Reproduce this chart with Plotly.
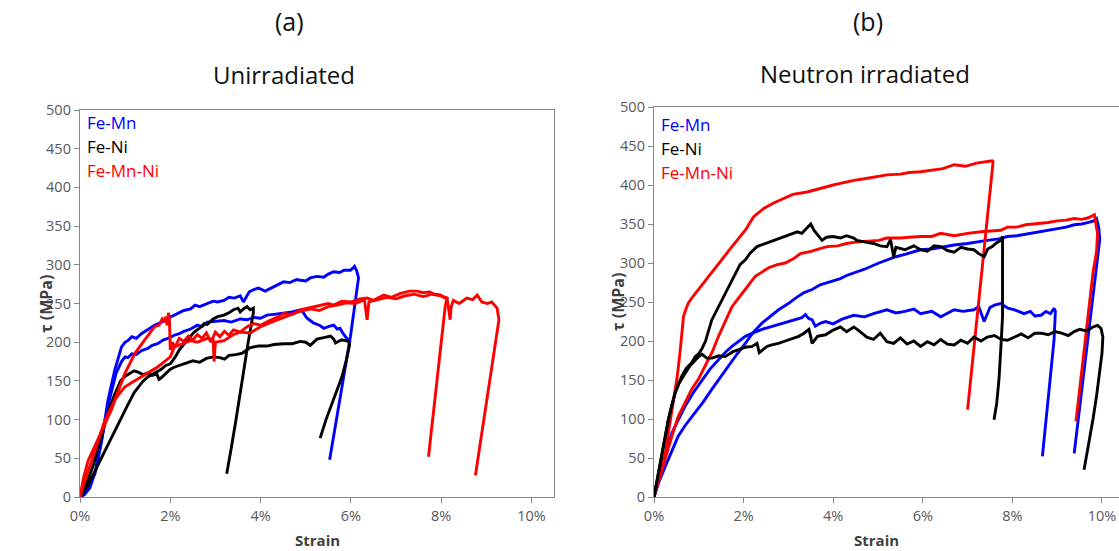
import plotly.graph_objects as go

# ---------------- (a) Unirradiated : strain (%) / shear stress (MPa) ----------------
a_femn_1_x = [0, 0.1, 0.2, 0.33, 0.48, 0.62, 0.77, 0.92, 1.0, 1.06, 1.15, 1.25, 1.36, 1.45, 1.55, 1.65,
              1.72, 1.85, 1.95, 2.09, 2.2, 2.3, 2.45, 2.55, 2.65, 2.82, 2.95, 3.05, 3.19, 3.3, 3.42, 3.55,
              3.62, 3.68, 3.75, 3.85, 3.95, 4.1, 4.25, 4.4, 4.51, 4.65, 4.8, 4.88, 5.0, 5.1, 5.25, 5.4,
              5.5, 5.62, 5.75, 5.85, 5.99, 6.05, 6.08, 6.13, 6.17, 6.08, 5.99, 5.84, 5.69, 5.53]
a_femn_1_y = [0, 4, 15, 30, 73, 125, 164, 194, 200, 202, 207, 205, 211, 214, 218, 222,
              224, 227, 231, 235, 238, 241, 243, 248, 246, 250, 253, 252, 254, 258, 257, 260,
              252, 258, 265, 268, 270, 266, 270, 275, 278, 277, 281, 280, 279, 283, 285, 284,
              288, 291, 290, 293, 293, 296, 298, 292, 283, 245, 207, 155, 103, 48]

a_femn_2_x = [0, 0.1, 0.22, 0.35, 0.5, 0.65, 0.8, 0.92, 1.0, 1.06, 1.15, 1.25, 1.36, 1.5, 1.6, 1.72,
              1.85, 1.95, 2.09, 2.2, 2.3, 2.45, 2.6, 2.7, 2.82, 3.0, 3.19, 3.35, 3.55, 3.7, 3.85, 4.0,
              4.14, 4.3, 4.51, 4.7, 4.9, 5.03, 5.1, 5.17, 5.3, 5.4, 5.5, 5.62, 5.7, 5.76, 5.82, 5.88,
              5.95, 5.99]
a_femn_2_y = [0, 3, 12, 35, 80, 125, 160, 175, 181, 180, 185, 184, 189, 192, 196, 198,
              203, 205, 209, 211, 214, 217, 222, 220, 226, 227, 228, 226, 230, 229, 232, 231,
              235, 236, 238, 239, 242, 231, 228, 225, 222, 218, 220, 222, 217, 218, 212, 207,
              203, 200]

a_feni_1_x = [0, 0.15, 0.3, 0.45, 0.6, 0.75, 0.9, 1.05, 1.2, 1.3, 1.4, 1.5, 1.6, 1.7, 1.8, 1.9,
              2.0, 2.1, 2.2, 2.31, 2.42, 2.53, 2.65, 2.75, 2.82, 2.95, 3.05, 3.19, 3.3, 3.4, 3.5, 3.55,
              3.62, 3.7, 3.77, 3.84, 3.84, 3.78, 3.72, 3.64, 3.55, 3.45, 3.35, 3.25]
a_feni_1_y = [0, 12, 30, 48, 65, 82, 100, 118, 135, 143, 150, 155, 158, 162, 165, 170,
              172, 180, 190, 198, 206, 213, 218, 224, 223, 230, 233, 235, 238, 242, 244, 239,
              243, 246, 242, 244, 238, 220, 198, 168, 133, 98, 63, 30]

a_feni_2_x = [0, 0.15, 0.3, 0.45, 0.6, 0.75, 0.9, 1.0, 1.1, 1.2, 1.3, 1.4, 1.5, 1.6, 1.7, 1.75,
              1.8, 1.9, 2.0, 2.1, 2.2, 2.35, 2.5, 2.65, 2.8, 2.95, 3.1, 3.2, 3.3, 3.45, 3.6, 3.77,
              3.95, 4.14, 4.3, 4.51, 4.7, 4.88, 5.0, 5.1, 5.25, 5.4, 5.55, 5.62, 5.66, 5.72, 5.8, 5.88,
              5.95, 5.97, 5.9, 5.8, 5.67, 5.55, 5.45, 5.32]
a_feni_2_y = [0, 18, 42, 75, 105, 130, 150, 156, 160, 163, 161, 158, 160, 157, 159, 152,
              154, 160, 165, 168, 170, 173, 176, 174, 179, 181, 180, 178, 183, 184, 186, 193,
              195, 195, 197, 198, 198, 201, 200, 196, 204, 206, 208, 204, 199, 201, 203, 202,
              201, 196, 177, 155, 134, 115, 100, 76]

a_femnni_1_x = [0, 0.08, 0.18, 0.3, 0.4, 0.52, 0.62, 0.7, 0.77, 0.88, 0.99, 1.1, 1.21, 1.32, 1.43, 1.55,
                1.65, 1.75, 1.82, 1.87, 1.9, 1.93, 1.96, 1.98, 2.0, 2.05, 2.1, 2.2, 2.3, 2.4, 2.5, 2.6,
                2.7, 2.8, 2.9, 3.0, 3.1, 3.2, 3.3, 3.4, 3.55, 3.7, 3.85, 4.0, 4.2, 4.4, 4.51, 4.7,
                4.9, 5.1, 5.3, 5.5, 5.62, 5.8, 6.0, 6.2, 6.36, 6.5, 6.73, 6.9, 7.1, 7.3, 7.47, 7.6,
                7.75, 7.85, 7.98, 8.05, 8.13, 8.09, 8.0, 7.9, 7.8, 7.72]
a_femnni_1_y = [0, 25, 47, 62, 73, 90, 103, 113, 125, 142, 159, 172, 185, 194, 202, 212,
                220, 222, 230, 226, 233, 222, 238, 230, 190, 200, 193, 205, 201, 208, 203, 210,
                205, 212, 200, 213, 207, 214, 209, 216, 213, 220, 224, 222, 228, 233, 237, 236,
                242, 245, 247, 250, 248, 253, 252, 256, 257, 254, 261, 258, 263, 266, 266, 264,
                265, 262, 261, 258, 257, 246, 199, 146, 94, 52]

a_femnni_2_x = [0, 0.1, 0.26, 0.4, 0.55, 0.66, 0.77, 0.88, 0.99, 1.15, 1.36, 1.55, 1.72, 1.85, 2.0, 2.09,
                2.25, 2.45, 2.6, 2.82, 2.95, 2.97, 3.0, 3.19, 3.4, 3.55, 3.77, 4.0, 4.2, 4.4, 4.6, 4.88,
                5.1, 5.3, 5.5, 5.7, 5.9, 6.1, 6.3, 6.36, 6.4, 6.6, 6.8, 7.0, 7.2, 7.4, 7.6, 7.8,
                8.0, 8.13, 8.2, 8.22, 8.27, 8.4, 8.57, 8.7, 8.8, 8.9, 9.02, 9.12, 9.2, 9.24, 9.28, 9.2,
                9.1, 9.0, 8.9, 8.76]
a_femnni_2_y = [0, 20, 47, 72, 99, 112, 125, 134, 142, 148, 155, 162, 168, 174, 181, 194,
                198, 202, 200, 205, 203, 175, 200, 202, 210, 213, 212, 220, 225, 230, 234, 240,
                243, 241, 246, 248, 251, 250, 255, 229, 252, 255, 258, 256, 260, 262, 259, 262,
                260, 257, 229, 245, 254, 250, 257, 255, 261, 252, 250, 252, 246, 244, 229, 198,
                160, 121, 82, 28]

# ---------------- (b) Neutron irradiated ----------------
b_femn_1_x = [0, 0.1, 0.25, 0.4, 0.54, 0.7, 0.92, 1.1, 1.29, 1.45, 1.66, 1.85, 2.04, 2.2, 2.41, 2.6,
              2.78, 3.0, 3.16, 3.35, 3.53, 3.71, 3.9, 4.16, 4.3, 4.46, 4.7, 5.02, 5.2, 5.4, 5.6, 5.8,
              5.95, 6.2, 6.4, 6.7, 7.0, 7.2, 7.44, 7.7, 7.89, 8.1, 8.3, 8.5, 8.64, 8.8, 9.0, 9.2,
              9.38, 9.55, 9.7, 9.82, 9.88, 9.93, 9.95, 9.85, 9.75, 9.65, 9.55, 9.45, 9.38]
b_femn_1_y = [0, 18, 39, 60, 78, 92, 108, 122, 138, 151, 168, 183, 197, 210, 223, 232,
              240, 248, 255, 262, 266, 272, 275, 280, 284, 287, 292, 300, 304, 308, 311, 314,
              317, 318, 320, 323, 325, 327, 329, 331, 334, 335, 337, 339, 340, 342, 344, 346,
              349, 350, 352, 354, 357, 345, 330, 282, 234, 186, 138, 90, 56]

b_femn_2_x = [0, 0.08, 0.17, 0.28, 0.4, 0.55, 0.69, 0.88, 1.07, 1.25, 1.44, 1.6, 1.74, 1.9, 2.04, 2.2,
              2.41, 2.6, 2.78, 2.95, 3.16, 3.3, 3.38, 3.45, 3.53, 3.6, 3.72, 3.83, 4.0, 4.2, 4.46, 4.7,
              4.9, 5.2, 5.4, 5.6, 5.8, 5.95, 6.2, 6.4, 6.7, 6.9, 7.14, 7.25, 7.37, 7.5, 7.6, 7.74,
              7.9, 8.05, 8.26, 8.4, 8.5, 8.64, 8.75, 8.85, 8.93, 8.96, 8.93, 8.85, 8.77, 8.67]
b_femn_2_y = [0, 20, 39, 60, 82, 100, 116, 134, 150, 164, 176, 186, 193, 200, 206, 210,
              215, 218, 221, 224, 227, 230, 234, 229, 227, 219, 223, 225, 222, 228, 233, 231,
              235, 240, 236, 238, 241, 235, 238, 231, 240, 238, 240, 244, 225, 243, 246, 248,
              242, 240, 235, 238, 232, 233, 238, 235, 242, 238, 201, 155, 109, 52]

b_feni_1_x = [0, 0.08, 0.17, 0.25, 0.32, 0.4, 0.47, 0.55, 0.62, 0.72, 0.84, 0.92, 1.0, 1.07, 1.15, 1.29,
              1.45, 1.59, 1.7, 1.81, 1.92, 2.04, 2.15, 2.3, 2.45, 2.66, 2.85, 3.04, 3.2, 3.3, 3.42, 3.5,
              3.57, 3.65, 3.75, 3.85, 4.0, 4.16, 4.3, 4.46, 4.53, 4.7, 4.9, 5.05, 5.2, 5.28, 5.35, 5.4,
              5.6, 5.8, 5.95, 6.1, 6.25, 6.4, 6.55, 6.7, 6.85, 7.0, 7.14, 7.25, 7.37, 7.45, 7.55, 7.65,
              7.74, 7.78, 7.78, 7.74, 7.7, 7.65, 7.59]
b_feni_1_y = [0, 25, 48, 75, 99, 118, 133, 145, 155, 165, 172, 180, 184, 190, 200, 227,
              245, 262, 275, 287, 298, 304, 313, 321, 324, 329, 333, 336, 340, 338, 346, 350,
              342, 336, 329, 333, 334, 332, 335, 332, 329, 327, 325, 322, 321, 330, 308, 320,
              317, 322, 317, 315, 322, 321, 316, 314, 320, 318, 317, 312, 308, 318, 321, 326,
              329, 334, 231, 188, 150, 120, 99]

b_feni_2_x = [0, 0.08, 0.17, 0.25, 0.32, 0.4, 0.47, 0.55, 0.62, 0.69, 0.8, 0.92, 1.0, 1.07, 1.18, 1.29,
              1.45, 1.59, 1.75, 1.89, 2.04, 2.19, 2.3, 2.35, 2.41, 2.52, 2.63, 2.78, 2.93, 3.08, 3.23, 3.35,
              3.46, 3.5, 3.53, 3.65, 3.83, 4.0, 4.16, 4.3, 4.46, 4.6, 4.75, 4.9, 5.05, 5.2, 5.35, 5.5,
              5.65, 5.8, 5.95, 6.1, 6.25, 6.4, 6.55, 6.7, 6.85, 7.0, 7.14, 7.3, 7.44, 7.6, 7.75, 7.89,
              8.05, 8.2, 8.35, 8.5, 8.64, 8.8, 8.95, 9.1, 9.25, 9.38, 9.5, 9.65, 9.8, 9.9, 9.98, 10.02,
              10.0, 9.95, 9.88, 9.8, 9.7, 9.6]
b_feni_2_y = [0, 25, 48, 75, 99, 118, 133, 145, 152, 158, 168, 176, 180, 183, 178, 178,
              181, 180, 186, 189, 192, 193, 197, 185, 188, 193, 195, 197, 200, 203, 206, 210,
              215, 205, 197, 206, 208, 214, 218, 212, 218, 212, 205, 202, 210, 199, 197, 204,
              196, 200, 193, 199, 195, 202, 196, 195, 201, 197, 205, 200, 205, 207, 202, 201,
              205, 209, 204, 210, 210, 208, 212, 210, 207, 212, 215, 213, 218, 220, 216, 205,
              184, 160, 130, 100, 65, 35]

b_femnni_1_x = [0, 0.08, 0.17, 0.25, 0.32, 0.4, 0.47, 0.52, 0.58, 0.62, 0.66, 0.72, 0.77, 0.88, 1.0, 1.1,
                1.22, 1.35, 1.51, 1.7, 1.92, 2.05, 2.22, 2.45, 2.67, 2.9, 3.1, 3.42, 3.71, 4.0, 4.16, 4.46,
                4.7, 5.02, 5.2, 5.5, 5.7, 5.95, 6.2, 6.45, 6.7, 6.95, 7.2, 7.44, 7.55, 7.57, 7.5, 7.4,
                7.3, 7.18, 7.1, 7.0]
b_femnni_1_y = [0, 20, 35, 55, 82, 110, 133, 155, 185, 205, 232, 242, 249, 258, 266, 274,
                283, 293, 304, 318, 334, 343, 359, 370, 377, 383, 388, 391, 396, 400, 402, 406,
                408, 411, 413, 414, 416, 417, 419, 421, 426, 424, 428, 430, 431, 430, 391, 335,
                279, 212, 168, 112]

b_femnni_2_x = [0, 0.1, 0.25, 0.4, 0.54, 0.7, 0.84, 1.0, 1.14, 1.3, 1.44, 1.6, 1.74, 1.9, 2.04, 2.15,
                2.26, 2.4, 2.56, 2.75, 2.93, 3.1, 3.27, 3.5, 3.7, 3.86, 4.1, 4.3, 4.53, 4.8, 5.02, 5.2,
                5.5, 5.7, 5.95, 6.2, 6.4, 6.7, 7.0, 7.3, 7.5, 7.74, 7.89, 8.1, 8.3, 8.5, 8.64, 8.8,
                9.0, 9.2, 9.38, 9.55, 9.7, 9.83, 9.9, 9.88, 9.8, 9.7, 9.6, 9.5, 9.42]
b_femnni_2_y = [0, 20, 48, 78, 103, 122, 138, 152, 168, 186, 206, 226, 244, 256, 266, 275,
                283, 288, 294, 298, 300, 305, 312, 315, 318, 321, 322, 325, 327, 328, 329, 332,
                332, 333, 334, 334, 338, 335, 338, 340, 341, 342, 346, 346, 349, 350, 351, 352,
                354, 355, 357, 356, 358, 362, 338, 315, 288, 238, 187, 137, 97]

alloys = ["Fe-Mn", "Fe-Ni", "Fe-Mn-Ni"]
alloy_colors = {"Fe-Mn": "#0000FF", "Fe-Ni": "#000000", "Fe-Mn-Ni": "#FF0000"}
strain_ticks = [0, 2, 4, 6, 8, 10]
strain_labels = ["0%", "2%", "4%", "6%", "8%", "10%"]
stress_ticks = list(range(0, 501, 50))

panel_a = [("Fe-Mn", a_femn_1_x, a_femn_1_y), ("Fe-Mn", a_femn_2_x, a_femn_2_y),
           ("Fe-Ni", a_feni_1_x, a_feni_1_y), ("Fe-Ni", a_feni_2_x, a_feni_2_y),
           ("Fe-Mn-Ni", a_femnni_1_x, a_femnni_1_y), ("Fe-Mn-Ni", a_femnni_2_x, a_femnni_2_y)]
panel_b = [("Fe-Mn", b_femn_1_x, b_femn_1_y), ("Fe-Mn", b_femn_2_x, b_femn_2_y),
           ("Fe-Mn-Ni", b_femnni_1_x, b_femnni_1_y), ("Fe-Mn-Ni", b_femnni_2_x, b_femnni_2_y),
           ("Fe-Ni", b_feni_1_x, b_feni_1_y), ("Fe-Ni", b_feni_2_x, b_feni_2_y)]

W, H = 1119, 551
FONT = "Open Sans"


def px(x):
    """pixel column -> paper x"""
    return x / W


def py(y):
    """pixel row (from top) -> paper y"""
    return 1 - y / H


fig = go.Figure()
for name, xs, ys in panel_a:
    fig.add_trace(go.Scatter(x=xs, y=ys, mode="lines", xaxis="x", yaxis="y", showlegend=False,
                             line=dict(color=alloy_colors[name], width=2.9)))
for name, xs, ys in panel_b:
    fig.add_trace(go.Scatter(x=xs, y=ys, mode="lines", xaxis="x2", yaxis="y2", showlegend=False,
                             line=dict(color=alloy_colors[name], width=2.9)))

axis_line = "#888888"
tick_font = dict(family=FONT, size=14.5, color="#595959")
x_common = dict(tickmode="array", tickvals=strain_ticks, ticktext=strain_labels, ticks="outside",
                ticklen=5, tickcolor=axis_line, showline=True, linecolor=axis_line, linewidth=1.3,
                showgrid=False, zeroline=False, tickfont=tick_font)
y_common = dict(tickmode="array", tickvals=stress_ticks, range=[0, 500], ticks="outside", ticklen=5,
                tickcolor=axis_line, showline=True, linecolor=axis_line, linewidth=1.3,
                showgrid=False, zeroline=False, tickfont=tick_font)

fig.update_layout(
    width=W, height=H, margin=dict(l=0, r=0, t=0, b=0, autoexpand=False),
    paper_bgcolor="white", plot_bgcolor="white",
    xaxis=dict(domain=[px(80), px(554)], range=[0, 10.5], mirror=True, anchor="y", **x_common),
    yaxis=dict(domain=[py(497), py(110)], mirror=True, anchor="x", **y_common),
    xaxis2=dict(domain=[px(654), 1.0], range=[0, 10.38], mirror=True, anchor="y2", **x_common),
    yaxis2=dict(domain=[py(497), py(107)], mirror=False, anchor="x2", **y_common),
)

ann = []
# panel headings
for text, x, y, size in [("(a)", 289, 21, 25), ("Unirradiated", 284, 75, 24),
                         ("(b)", 868, 21, 25), ("Neutron irradiated", 865, 73, 24)]:
    ann.append(dict(text=text, x=px(x), y=py(y), xref="paper", yref="paper", showarrow=False,
                    xanchor="center", yanchor="middle", font=dict(family=FONT, size=size, color="#111111")))
# axis titles
for x, y in [(46, 304), (618, 302)]:
    ann.append(dict(text="<b>τ (MPa)</b>", x=px(x), y=py(y), xref="paper", yref="paper", showarrow=False,
                    textangle=-90, xanchor="center", yanchor="middle",
                    font=dict(family=FONT, size=16, color="#404040")))
for x, y in [(317, 540), (876, 540)]:
    ann.append(dict(text="<b>Strain</b>", x=px(x), y=py(y), xref="paper", yref="paper", showarrow=False,
                    xanchor="center", yanchor="middle", font=dict(family=FONT, size=15, color="#404040")))
# in-plot series keys
for x0, y0 in [(85, 122), (659, 124)]:
    for i, name in enumerate(alloys):
        ann.append(dict(text=name, x=px(x0), y=py(y0 + 24 * i), xref="paper", yref="paper", showarrow=False,
                        xanchor="left", yanchor="middle",
                        font=dict(family=FONT, size=17, color=alloy_colors[name])))
fig.update_layout(annotations=ann)

fig.write_html("out.html")
